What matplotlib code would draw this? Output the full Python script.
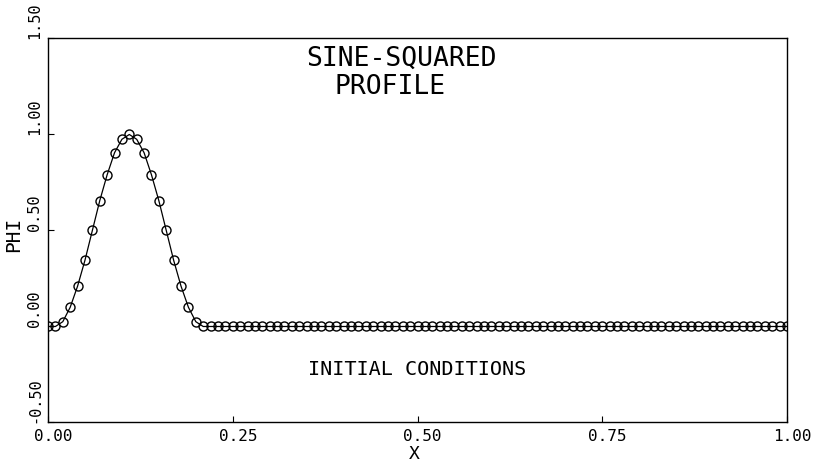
import numpy as np
import matplotlib
matplotlib.use('Agg')
import matplotlib.pyplot as plt
import matplotlib.transforms as mtransforms

plt.rcParams['font.family'] = ['DejaVu Sans Mono']

# sample points, dx = 0.01 over [0, 1]
x = np.linspace(0.0, 1.0, 101)
# values: the sine-squared hump, then flat zero
phi_hump = [0.0, 0.0, 0.025, 0.10, 0.21, 0.345, 0.50, 0.655, 0.79, 0.905, 0.975, 1.0,
            0.975, 0.905, 0.79, 0.655, 0.50, 0.345, 0.21, 0.10, 0.025]
phi_flat = [0.0] * 80
phi = phi_hump + phi_flat

xticks = [0.0, 0.25, 0.5, 0.75, 1.0]
xticklabels = ['0.00', '0.25', '0.50', '0.75', '1.00']
yticks = [-0.5, 0.0, 0.5, 1.0, 1.5]
yticklabels = ['-0.50', '0.00', '0.50', '1.00', '1.50']

fig = plt.figure(figsize=(8.18, 4.64), dpi=100)
ax = fig.add_axes([0.0587, 0.0873, 0.9034, 0.8276])

ax.plot(x, phi, color='black', lw=0.9, marker='o', ms=6.5, mfc='none', mec='black', mew=1.0)

ax.set_xlim(0, 1)
ax.set_ylim(-0.5, 1.5)
ax.set_xticks(xticks)
ax.set_xticklabels(xticklabels, fontsize=11.5)
ax.set_yticks(yticks)
ax.set_yticklabels(yticklabels, fontsize=11, rotation=90, va='bottom', ha='right')
ax.tick_params(direction='in', length=4, width=0.8, pad=4)
ax.tick_params(axis='y', pad=4)

# plotter labels sit a little to the right of their ticks
offset = mtransforms.ScaledTranslation(5 / 100, 0, fig.dpi_scale_trans)
for lab in ax.get_xticklabels():
    lab.set_transform(lab.get_transform() + offset)

for sp in ax.spines.values():
    sp.set_linewidth(1.0)

ax.text(0.495, -0.658, 'X', fontsize=13, ha='center', va='center')
ax.text(-0.046, 0.484, 'PHI', fontsize=14, ha='center', va='center', rotation=90)

ax.text(0.350, 1.401, 'SINE-SQUARED', fontsize=19, ha='left', va='center')
ax.text(0.388, 1.253, 'PROFILE', fontsize=19, ha='left', va='center')
ax.text(0.352, -0.219, 'INITIAL CONDITIONS', fontsize=14.5, ha='left', va='center')

fig.savefig('out.png', dpi=100)
